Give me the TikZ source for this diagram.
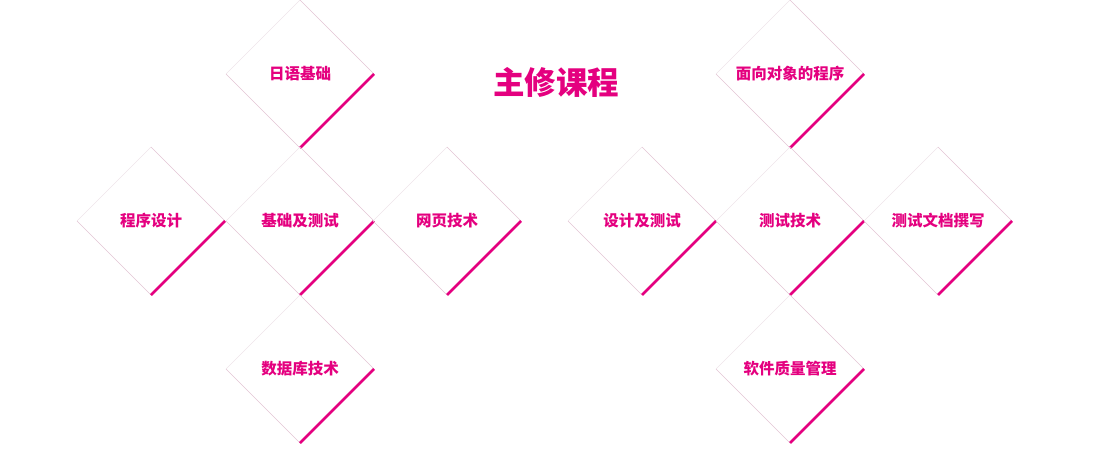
\documentclass[tikz,border=0pt]{standalone}
\usepackage{fontspec}
\newfontfamily\cjk{Noto Sans CJK SC}
\usetikzlibrary{shapes.geometric}
\definecolor{pinkmain}{RGB}{228,0,127}
\definecolor{pinklight}{RGB}{226,196,212}
\definecolor{pinkfaint}{RGB}{238,228,234}
\tikzset{
  course/.style={shape=diamond, aspect=1, minimum size=148pt, inner sep=0pt,
    outer sep=0pt, text=pinkmain, font=\cjk\bfseries\fontsize{15.5}{18}\selectfont},
  edgefaint/.style={draw=pinkfaint, line width=0.6pt},
  edgelight/.style={draw=pinklight, line width=0.6pt},
  edgestrong/.style={draw=pinkmain, line width=2.5pt}
}
\begin{document}
\begin{tikzpicture}[x=1pt, y=-1pt]
    % keep the page at the size of the reference
    \useasboundingbox (0,0) rectangle (1109,455);

    % title
    \node[text=pinkmain, font=\cjk\bfseries\fontsize{31.5}{36}\selectfont] (title) at (556,82) {主修课程};

    % left group of courses
    \node[course] (riyu) at (300,74) {日语基础};
    \node[course] (chengxu) at (151,221) {程序设计};
    \node[course] (jichu) at (300,221) {基础及测试};
    \node[course] (wangye) at (447,221) {网页技术};
    \node[course] (shujuku) at (300,369) {数据库技术};

    % right group of courses
    \node[course] (mianxiang) at (790,74) {面向对象的程序};
    \node[course] (sheji) at (642,221) {设计及测试};
    \node[course] (ceshi) at (790,221) {测试技术};
    \node[course] (wendang) at (938,221) {测试文档撰写};
    \node[course] (zhiliang) at (790,369) {软件质量管理};

    % edges of every diamond, the lower right one is the strong one
    \foreach \n in {riyu, chengxu, jichu, wangye, shujuku,
                    mianxiang, sheji, ceshi, wendang, zhiliang} {
      \draw[edgefaint] (\n.west) -- (\n.north);
      \draw[edgelight] (\n.north) -- (\n.east);
      \draw[edgelight] (\n.west) -- (\n.south);
      \draw[edgestrong] (\n.east) -- (\n.south);
    }
\end{tikzpicture}
\end{document}
